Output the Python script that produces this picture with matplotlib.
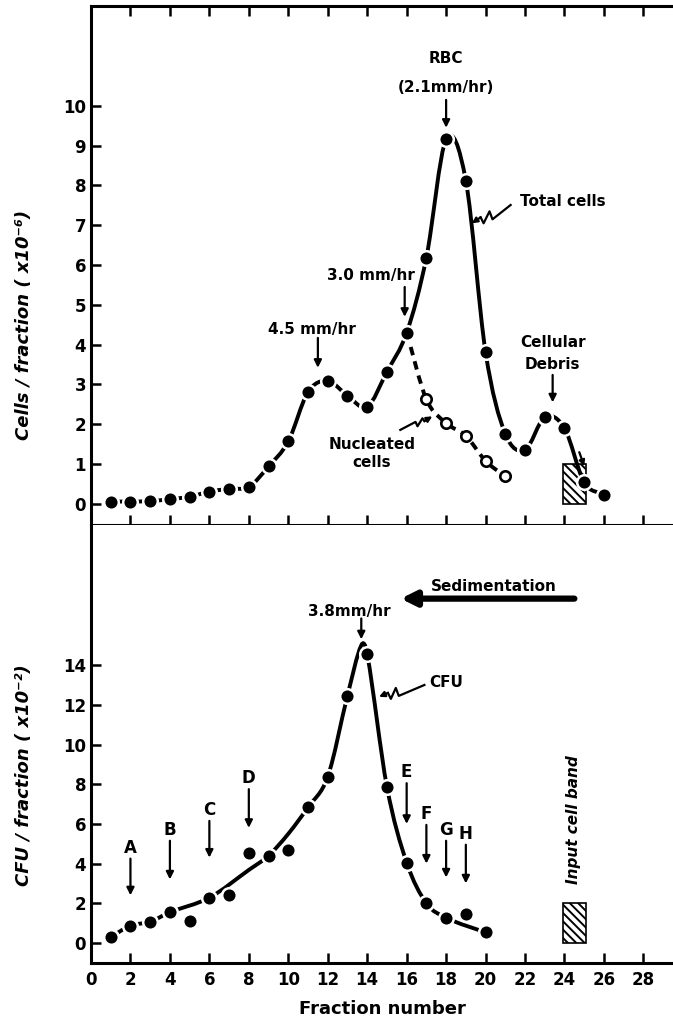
import numpy as np
import matplotlib
matplotlib.use("Agg")
import matplotlib.pyplot as plt
from matplotlib.path import Path
from matplotlib.patches import PathPatch, Rectangle

# ---------------- data ----------------
fractions_total = list(range(1, 27))
total_cells = [0.06, 0.06, 0.07, 0.12, 0.18, 0.31, 0.38, 0.43, 0.94, 1.57,
               2.81, 3.09, 2.72, 2.44, 3.32, 4.30, 6.19, 9.16, 8.12, 3.81,
               1.76, 1.36, 2.18, 1.90, 0.54, 0.23]

fractions_nucleated = [16, 17, 18, 19, 20, 21]
nucleated_cells = [4.30, 2.63, 2.03, 1.71, 1.08, 0.69]

fractions_cfu = list(range(1, 21))
cfu = [0.30, 0.87, 1.07, 1.55, 1.13, 2.28, 2.42, 4.52, 4.40, 4.69,
       6.84, 8.38, 12.46, 14.56, 7.87, 4.05, 2.00, 1.27, 1.45, 0.53]

# hand-drawn CFU curve as it appears in the figure
cfu_curve_x = [1, 2, 3, 4, 6, 8, 9, 10, 11, 12, 13, 13.7, 14, 15, 16, 17, 18, 20]
cfu_curve_y = [0.30, 0.87, 1.07, 1.55, 2.28, 3.68, 4.40, 5.5, 6.84, 8.38,
               12.46, 15.0, 14.56, 7.87, 4.05, 2.00, 1.27, 0.53]

input_band = (23.9, 25.1)          # fraction span of input cell band
input_band_height_top = 1.0
input_band_height_bottom = 2.0

fraction_ticks = list(range(0, 29, 2))
top_yticks = list(range(0, 11))
bottom_yticks = list(range(0, 15, 2))

fraction_markers = ["A", "B", "C", "D", "E", "F", "G", "H"]
fraction_marker_x = [2, 4, 6, 8, 16, 17, 18, 19]
fraction_marker_text_y = [4.8, 5.7, 6.7, 8.3, 8.6, 6.5, 5.7, 5.5]
fraction_marker_tip_y = [2.4, 3.2, 4.3, 5.8, 6.0, 4.0, 3.3, 3.0]

# ---------------- helpers ----------------
def smooth_path(xs, ys):
    xs = np.asarray(xs, float)
    ys = np.asarray(ys, float)
    n = len(xs)
    m = np.empty(n)
    for i in range(n):
        if i == 0:
            m[i] = (ys[1] - ys[0]) / (xs[1] - xs[0])
        elif i == n - 1:
            m[i] = (ys[-1] - ys[-2]) / (xs[-1] - xs[-2])
        else:
            m[i] = (ys[i + 1] - ys[i - 1]) / (xs[i + 1] - xs[i - 1])
    verts = [(xs[0], ys[0])]
    codes = [Path.MOVETO]
    for i in range(n - 1):
        dx = xs[i + 1] - xs[i]
        verts += [(xs[i] + dx / 3, ys[i] + m[i] * dx / 3),
                  (xs[i + 1] - dx / 3, ys[i + 1] - m[i + 1] * dx / 3),
                  (xs[i + 1], ys[i + 1])]
        codes += [Path.CURVE4] * 3
    return Path(verts, codes)


plt.rcParams["font.family"] = ["DejaVu Sans"]
plt.rcParams["font.weight"] = "bold"
plt.rcParams["hatch.linewidth"] = 1.4

fig = plt.figure(figsize=(6.73, 10.27), dpi=100)
ax1 = fig.add_axes([0.1352, 0.4888, 0.8648, 0.5054])
ax2 = fig.add_axes([0.1352, 0.0623, 0.8648, 0.4265])

LW = 2.8
TXT = dict(fontsize=11, fontweight="bold", ha="center", va="center")

for ax in (ax1, ax2):
    ax.set_xlim(0, 29.5)
    ax.spines["right"].set_visible(False)
    for s in ("left", "bottom", "top"):
        ax.spines[s].set_linewidth(2.2)
    ax.set_xticks(fraction_ticks)
    ax.tick_params(axis="both", direction="in", length=7, width=1.8,
                   labelsize=12)

ax2.spines["top"].set_visible(False)

# ---------------- top panel ----------------
ax1.set_ylim(-0.53, 12.51)
ax1.set_yticks(top_yticks)
ax1.tick_params(axis="x", top=True, bottom=True, labelbottom=False)
for lab in ax1.get_yticklabels():
    lab.set_fontweight("bold")

ax1.add_patch(PathPatch(smooth_path(fractions_total, total_cells), fill=False,
                        lw=LW, color="black", capstyle="round", zorder=3))
ax1.add_patch(PathPatch(smooth_path(fractions_nucleated, nucleated_cells), fill=False,
                        lw=LW, color="black", linestyle=(0, (2.2, 1.6)), zorder=3))
ax1.plot(fractions_total, total_cells, "o", color="black", ms=10.5,
         mec="white", mew=1.8, zorder=5)
ax1.plot(fractions_nucleated[1:], nucleated_cells[1:], "o", mfc="white",
         mec="black", ms=7.5, mew=1.9, zorder=5)

ax1.add_patch(Rectangle((input_band[0], 0), input_band[1] - input_band[0],
                        input_band_height_top, fill=False, hatch="\\\\\\\\",
                        lw=1.2, color="black", zorder=2))

AR = dict(arrowstyle="-|>", lw=1.6, color="black", mutation_scale=11,
          shrinkA=0, shrinkB=0)

ax1.text(18.0, 11.2, "RBC", **TXT)
ax1.text(18.0, 10.45, "(2.1mm/hr)", **TXT)
ax1.annotate("", xy=(18.0, 9.45), xytext=(18.0, 10.15), arrowprops=AR)

ax1.text(14.2, 5.75, "3.0 mm/hr", **TXT)
ax1.annotate("", xy=(15.9, 4.7), xytext=(15.9, 5.45), arrowprops=AR)

ax1.text(11.2, 4.37, "4.5 mm/hr", **TXT)
ax1.annotate("", xy=(11.5, 3.42), xytext=(11.5, 4.17), arrowprops=AR)

ax1.text(23.4, 4.05, "Cellular", **TXT)
ax1.text(23.4, 3.5, "Debris", **TXT)
ax1.annotate("", xy=(23.4, 2.55), xytext=(23.4, 3.24), arrowprops=AR)
ax1.annotate("", xy=(25.0, 0.95), xytext=(24.75, 1.3),
             arrowprops=dict(AR, mutation_scale=8))

ax1.text(23.9, 7.6, "Total cells", **TXT)
ax1.plot([21.27, 20.35, 20.2, 19.9, 19.75], [7.51, 7.15, 7.35, 7.05, 7.2],
         color="black", lw=1.6, solid_joinstyle="round")
ax1.annotate("", xy=(19.3, 7.05), xytext=(19.75, 7.2),
             arrowprops=dict(AR, mutation_scale=8))

ax1.text(14.25, 1.48, "Nucleated", **TXT)
ax1.text(14.25, 1.03, "cells", **TXT)
ax1.plot([15.68, 16.45, 16.55, 16.8, 16.9], [1.86, 2.06, 1.95, 2.15, 2.08],
         color="black", lw=1.6, solid_joinstyle="round")
ax1.annotate("", xy=(17.3, 2.2), xytext=(16.9, 2.08),
             arrowprops=dict(AR, mutation_scale=8))

ax1.set_ylabel("Cells / fraction ( x10⁻⁶)", fontsize=13, fontweight="bold",
               fontstyle="italic")
ax1.yaxis.set_label_coords(-0.0997, 0.385)

# ---------------- bottom panel ----------------
ax2.set_ylim(-1.01, 21.06)
ax2.set_yticks(bottom_yticks)
ax2.tick_params(axis="x", top=False, bottom=True, pad=6)
for lab in ax2.get_xticklabels() + ax2.get_yticklabels():
    lab.set_fontweight("bold")

ax2.add_patch(PathPatch(smooth_path(cfu_curve_x, cfu_curve_y), fill=False,
                        lw=LW, color="black", zorder=3))
ax2.plot(fractions_cfu, cfu, "o", color="black", ms=10.5, mec="white",
         mew=1.8, zorder=5)

ax2.add_patch(Rectangle((input_band[0], 0), input_band[1] - input_band[0],
                        input_band_height_bottom, fill=False, hatch="\\\\\\\\",
                        lw=1.2, color="black", zorder=2))
ax2.text(24.45, 6.2, "Input cell band", rotation=90, fontsize=11,
         fontweight="bold", fontstyle="italic", ha="center", va="center")

ax2.text(20.4, 17.95, "Sedimentation", **TXT)
ax2.annotate("", xy=(15.7, 17.35), xytext=(24.5, 17.35),
             arrowprops=dict(arrowstyle="-|>", lw=4.5, color="black",
                             mutation_scale=22, shrinkA=0, shrinkB=0))

ax2.text(13.1, 16.7, "3.8mm/hr", **TXT)
ax2.annotate("", xy=(13.7, 15.3), xytext=(13.7, 16.35), arrowprops=AR)

ax2.text(18.0, 13.1, "CFU", **TXT)
ax2.plot([16.9, 15.6, 15.45, 15.2, 15.05], [13.0, 12.45, 12.85, 12.3, 12.6],
         color="black", lw=1.6, solid_joinstyle="round")
ax2.annotate("", xy=(14.6, 12.4), xytext=(15.05, 12.6),
             arrowprops=dict(AR, mutation_scale=8))

for lab, x, ty, tip in zip(fraction_markers, fraction_marker_x,
                           fraction_marker_text_y, fraction_marker_tip_y):
    ax2.text(x, ty, lab, fontsize=12, fontweight="bold", ha="center", va="center")
    ax2.annotate("", xy=(x, tip), xytext=(x, ty - 0.55), arrowprops=AR)

ax2.set_xlabel("Fraction number", fontsize=13, fontweight="bold", labelpad=8)
ax2.set_ylabel("CFU / fraction ( x10⁻²)", fontsize=13, fontweight="bold",
               fontstyle="italic")
ax2.yaxis.set_label_coords(-0.0997, 0.43)

fig.savefig("out.png", dpi=100)
